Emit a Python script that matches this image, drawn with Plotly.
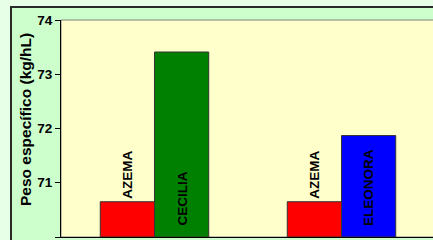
import plotly.graph_objects as go

groups = [0, 1]
base_names = ["AZEMA", "AZEMA"]
base_values = [70.65, 70.65]
var_names = ["CECILIA", "ELEONORA"]
var_values = [73.41, 71.87]
var_colors = ["#008000", "#0000FF"]
y_ticks = [70, 71, 72, 73, 74]
y_floor = 70
y_title = "Peso específico (kg/hL)"

W, H = 433, 240
L, R, T, B = 61, 0, 20, 3
pw, ph = W - L - R, H - T - B
BARGAP = 0.42
bar_w = (1 - BARGAP) / 2

FONT = "Arial, 'Liberation Sans', sans-serif"
TF = dict(family=FONT, size=13.5, color="black", weight="bold")

fig = go.Figure()
fig.add_trace(go.Bar(
    x=groups, y=[v - y_floor for v in base_values], base=y_floor,
    marker=dict(color="#FF0000", line=dict(color="#333333", width=1)),
    text=base_names, textposition="outside", textangle=-90, textfont=TF,
    cliponaxis=False, constraintext="none", showlegend=False,
))
fig.add_trace(go.Bar(
    x=groups, y=[v - y_floor for v in var_values], base=y_floor,
    marker=dict(color=var_colors, line=dict(color="#333333", width=1)),
    showlegend=False,
))
for g, name in zip(groups, var_names):
    fig.add_annotation(x=g + bar_w / 2, y=y_floor, text=name, textangle=-90,
                       xanchor="center", yanchor="bottom", yshift=9, showarrow=False,
                       font=TF)

# y-axis title
fig.add_annotation(xref="paper", yref="paper", x=(25 - L) / pw, y=(H - B - 120) / ph,
                   text=y_title, textangle=-90, showarrow=False,
                   xanchor="center", yanchor="middle",
                   font=dict(family=FONT, size=15.5, color="black", weight="bold"))

# outer frame and plot area
fx0 = (11 - L) / pw
fy1 = (H - B - 7) / ph
fig.add_shape(type="rect", xref="paper", yref="paper", x0=fx0, x1=1.2, y0=-0.2, y1=fy1,
              fillcolor="#CCFFCC", line=dict(color="#2a2a2a", width=2), layer="below")
fig.add_shape(type="rect", xref="paper", yref="paper", x0=0, x1=1.05, y0=0, y1=1,
              fillcolor="#FFFFCC", line=dict(color="#808080", width=1), layer="below")

fig.update_layout(
    width=W, height=H,
    margin=dict(l=L, r=R, t=T, b=B, pad=0),
    paper_bgcolor="#E6FFE6", plot_bgcolor="rgba(0,0,0,0)",
    barmode="group", bargap=BARGAP, bargroupgap=0,
    font=dict(family=FONT, color="black"),
    xaxis=dict(range=[-0.5, 1.5 - 2 / 187], showticklabels=False, showgrid=False,
               zeroline=False, showline=True, linecolor="black", linewidth=1, ticks=""),
    yaxis=dict(range=[70, 74], tickvals=y_ticks, showgrid=False, zeroline=False,
               showline=True, linecolor="black", linewidth=1,
               ticks="outside", ticklen=5, tickcolor="black",
               tickfont=dict(family=FONT, size=13.5, color="black", weight="bold")),
)

fig.write_html("out.html", config={"displayModeBar": False},
               post_script="document.body.style.margin='0';document.body.style.overflow='hidden';")
